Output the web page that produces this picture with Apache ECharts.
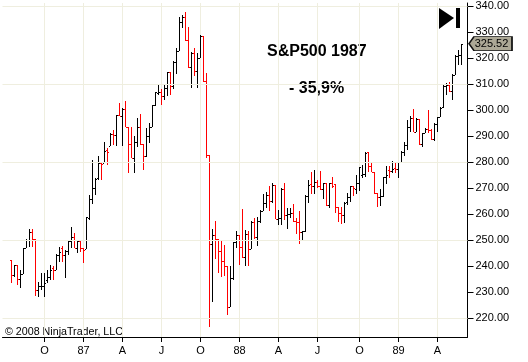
<!DOCTYPE html>
<html>
<head>
<meta charset="utf-8">
<style>html,body{margin:0;padding:0;background:#fff}#main{width:528px;height:362px}</style>
<script src="https://cdn.jsdelivr.net/npm/echarts@6/dist/echarts.min.js"></script>
</head>
<body>
<div id="main"></div>
<script>
// weekly bars, values
var opens = [242.3,236.5,240.4,235.0,236.9,246.9,250.0,253.1,250.4,230.8,232.3,232.3,234.6,235.8,239.2,238.5,244.2,246.9,244.2,245.8,
249.6,251.1,246.9,249.6,246.9,246.5,258.5,265.8,270.0,273.8,279.6,279.6,284.6,286.1,290.8,290.4,298.1,297.7,300.4,293.5,
286.9,281.5,287.7,293.5,286.9,282.3,290.0,293.5,301.9,306.5,306.9,305.4,308.5,314.6,309.2,318.5,322.7,333.8,335.8,326.9,
316.5,321.9,315.0,320.0,328.5,311.1,282.7,248.5,251.9,250.4,245.8,241.9,240.0,224.2,235.4,249.2,251.9,247.3,243.5,252.3,
246.5,256.9,251.1,257.3,261.1,264.2,267.3,265.0,271.1,258.1,258.5,269.6,259.6,260.0,260.4,257.3,256.9,253.1,253.5,266.9,
271.5,270.8,272.3,270.8,269.6,271.9,263.4,271.9,271.5,262.7,260.4,259.6,264.6,266.5,270.8,269.6,271.9,275.0,275.4,283.8,
278.5,276.1,268.1,266.5,266.9,274.2,276.9,276.5,277.7,277.3,280.0,283.8,286.5,293.5,296.9,291.5,296.5,286.9,291.1,292.7,
292.3,288.8,294.6,297.3,301.1,309.2,309.6,307.3,313.5,320.8,321.1];
var highs = [242.3,240.4,240.4,238.5,246.9,250.4,254.2,254.2,250.4,233.8,237.3,237.3,238.5,240.4,240.0,244.6,247.3,247.7,246.1,249.6,
255.0,252.7,250.0,249.6,246.9,258.8,267.3,280.8,273.8,282.3,280.0,287.7,285.4,291.1,292.3,298.1,302.7,300.8,303.4,293.5,
293.5,290.0,296.9,298.5,286.9,293.1,295.0,301.9,306.9,310.0,308.1,309.6,314.6,314.6,318.8,323.8,335.8,336.5,337.7,331.9,
322.3,323.8,321.9,328.8,328.5,314.2,282.7,254.2,257.3,250.4,249.6,248.1,240.0,240.0,249.2,253.5,251.9,261.9,253.8,253.5,
257.3,258.5,258.8,261.5,267.7,268.5,270.8,271.9,271.1,261.5,270.0,271.9,262.3,262.3,263.8,258.5,261.1,253.5,267.3,273.1,
276.1,276.9,273.1,276.5,271.9,271.9,271.9,274.2,271.5,262.7,262.7,264.6,268.1,270.8,270.8,275.0,278.1,278.8,283.8,283.8,
280.0,276.1,268.1,269.6,274.2,278.5,278.5,280.4,279.6,280.0,284.2,287.7,296.1,297.7,300.4,296.9,296.5,291.1,293.1,300.0,
292.7,295.0,297.3,301.1,309.6,310.4,310.8,313.8,321.1,323.1,325.5];
var lows = [233.5,235.8,232.7,231.5,236.9,246.9,247.3,247.3,228.5,228.1,230.8,228.1,233.5,234.6,234.6,238.5,241.5,241.5,235.4,244.2,
246.9,246.9,245.0,245.4,241.1,246.5,257.7,263.8,267.3,273.1,273.1,279.6,278.8,286.1,286.5,286.1,297.7,286.1,293.5,275.8,
281.5,275.8,285.8,286.5,276.9,281.9,287.3,293.5,301.5,305.8,301.9,303.8,305.4,305.8,308.1,313.8,322.7,331.5,326.5,316.1,
308.5,313.1,308.5,320.0,310.8,281.5,216.5,226.1,242.7,237.3,235.8,236.2,221.1,224.2,234.6,246.9,240.4,243.1,240.0,240.0,
246.5,250.4,247.7,256.5,261.1,262.3,261.1,264.2,258.1,255.8,255.8,257.7,254.2,258.5,256.9,252.3,248.5,249.6,253.1,264.2,
267.7,267.7,270.0,269.2,265.8,263.0,262.3,270.0,260.4,256.9,256.1,256.5,263.4,264.6,266.9,267.7,268.8,273.8,274.2,276.1,
276.1,267.7,262.7,263.0,266.5,271.5,273.8,275.8,275.8,273.8,279.6,282.3,284.6,291.5,291.5,291.5,286.5,285.8,291.1,291.1,
288.5,288.1,291.5,297.3,300.8,305.8,306.9,303.8,313.5,317.3,317.3];
var closes = [236.5,240.4,235.0,236.9,246.9,250.0,253.1,250.4,230.8,232.3,232.3,233.5,235.8,238.5,238.5,244.2,245.4,244.2,245.8,249.6,
251.1,246.9,249.6,246.9,246.1,258.8,265.8,270.0,273.5,279.6,279.2,284.2,283.8,290.8,290.4,298.1,297.7,300.4,293.5,286.9,
281.5,287.7,293.5,286.9,282.3,290.0,293.5,301.9,306.9,306.9,305.4,308.5,314.6,309.2,318.5,322.7,333.8,335.8,326.9,316.5,
321.9,315.0,320.0,328.5,311.1,282.7,248.5,251.9,250.4,245.8,241.9,240.0,224.2,235.4,249.2,251.9,247.3,243.5,252.3,246.5,
256.9,251.1,257.3,261.1,264.2,267.3,265.0,271.1,258.1,258.5,269.6,259.6,260.0,260.4,257.3,256.9,253.1,253.5,266.9,271.1,
270.8,272.3,270.8,269.6,271.9,263.4,271.9,270.8,262.7,260.4,259.6,264.2,266.5,270.8,270.0,271.9,278.1,275.4,283.5,278.5,
276.1,268.1,266.5,266.9,274.2,275.0,276.5,277.3,277.3,280.0,283.8,286.5,293.5,296.9,291.5,296.5,286.9,291.1,292.7,292.3,
288.8,294.6,297.3,300.8,309.2,309.6,307.3,313.5,320.8,321.1,325.52];

// empty slots left and right of the bars
var padLeft = 3;
var padRight = 2;

var tickBars = [11,24,37,50,63,76,89,102,116,129,142];
var tickLabels = ['O','87','A','J','O','88','A','J','O','89','A'];

var priceLabels = [220,230,240,250,260,270,280,290,300,310,320,330,340];
var gridPrices = [220,250,280,310,340];
var lastPrice = 325.52;

var cats = [];
for (var i = 0; i < opens.length + padLeft + padRight; i++) {
    cats.push('');
}
for (var t = 0; t < tickBars.length; t++) {
    cats[tickBars[t] + padLeft] = tickLabels[t];
}

var ohlc = [];
for (var n = 0; n < opens.length; n++) {
    ohlc.push([n + padLeft, opens[n], highs[n], lows[n], closes[n]]);
}

function showTick(index, value) {
    return value !== '';
}

function renderBar(params, api) {
    var x = api.value(0);
    var o = api.coord([x, api.value(1)]);
    var h = api.coord([x, api.value(2)]);
    var l = api.coord([x, api.value(3)]);
    var c = api.coord([x, api.value(4)]);
    var px = Math.floor(o[0]);
    var color = api.value(4) < api.value(1) ? '#ff0000' : '#000000';
    var style = {fill: color};
    return {
        type: 'group',
        children: [
            {type: 'rect', shape: {x: px, y: Math.round(h[1]), width: 1, height: Math.max(1, Math.round(l[1]) - Math.round(h[1]))}, style: style},
            {type: 'rect', shape: {x: px - 1, y: Math.round(o[1]), width: 1, height: 1}, style: style},
            {type: 'rect', shape: {x: px + 1, y: Math.round(c[1]), width: 1, height: 1}, style: style}
        ]
    };
}

var gridColor = '#efeedf';
var chart = echarts.init(document.getElementById('main'), null, {renderer: 'canvas'});
var option = {
    animation: false,
    backgroundColor: '#ffffff',
    textStyle: {fontFamily: '"Liberation Sans", Arial, sans-serif'},
    grid: {left: 2.5, right: 60.5, top: 3, height: 334, containLabel: false},
    xAxis: {
        type: 'category',
        data: cats,
        boundaryGap: false,
        axisLine: {onZero: false, lineStyle: {color: '#000', width: 1}},
        axisTick: {length: 5, interval: showTick, lineStyle: {color: '#000'}},
        axisLabel: {interval: showTick, color: '#000', fontSize: 11, margin: 8},
        splitLine: {show: true, interval: showTick, lineStyle: {color: gridColor, width: 1}}
    },
    yAxis: {
        type: 'value',
        position: 'right',
        min: 212.69,
        max: 341.15,
        axisLine: {show: true, onZero: false, lineStyle: {color: '#000', width: 1}},
        axisTick: {show: true, length: 6, customValues: priceLabels, lineStyle: {color: '#000'}},
        axisLabel: {
            color: '#000',
            fontSize: 11,
            margin: 8,
            padding: [4, 0, 0, 0],
            customValues: priceLabels,
            formatter: function (v) { return v.toFixed(2); }
        },
        splitLine: {show: false}
    },
    series: [
        {
            // only carries the horizontal grid lines
            type: 'line',
            data: [],
            z: 1,
            silent: true,
            markLine: {
                silent: true,
                symbol: 'none',
                label: {show: false},
                lineStyle: {color: gridColor, width: 1, type: 'solid'},
                data: gridPrices.map(function (p) { return {yAxis: p}; })
            }
        },
        {
            type: 'custom',
            z: 3,
            clip: false,
            renderItem: renderBar,
            encode: {x: 0, y: [1, 2, 3, 4]},
            data: ohlc,
            markPoint: {
                silent: true,
                symbol: 'path://M0 7 L5 0 L43 0 L43 14 L5 14 Z',
                symbolSize: [43, 14],
                symbolKeepAspect: false,
                symbolOffset: [23, 0],
                itemStyle: {color: '#aca896', borderColor: '#111', borderWidth: 1},
                label: {show: true, position: 'inside', offset: [1, 0], color: '#000', fontSize: 11, formatter: function () { return lastPrice.toFixed(2); }},
                data: [{coord: [opens.length + padLeft + padRight - 1, lastPrice]}]
            }
        }
    ],
    graphic: [
        {type: 'text', left: 267, top: 44, style: {text: 'S&P500 1987', fill: '#000', font: 'bold 16px "Liberation Sans", Arial, sans-serif'}},
        {type: 'text', left: 289, top: 81, style: {text: '- 35,9%', fill: '#000', font: 'bold 16px "Liberation Sans", Arial, sans-serif'}},
        {type: 'text', left: 5, top: 327, style: {text: '\u00a9 2008 NinjaTrader, LLC', fill: '#000', font: '10.7px "Liberation Sans", Arial, sans-serif'}},
        {type: 'polygon', shape: {points: [[439, 8], [454, 18], [439, 29]]}, style: {fill: '#000'}},
        {type: 'rect', shape: {x: 456, y: 8, width: 4, height: 20}, style: {fill: '#000'}}
    ]
};
chart.setOption(option);
</script>
</body>
</html>
